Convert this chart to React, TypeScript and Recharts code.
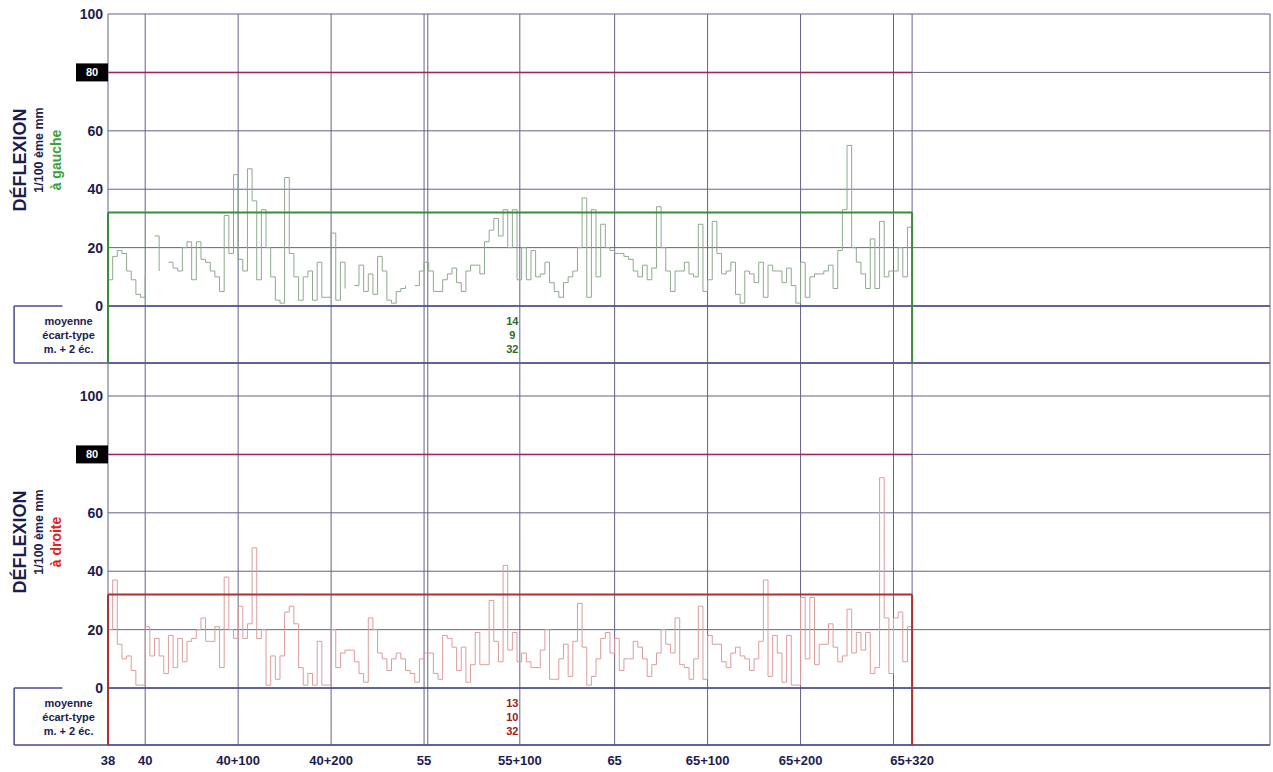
import { CartesianGrid, Line, LineChart, ReferenceArea, ReferenceLine, XAxis, YAxis } from "recharts";

const FONT = '"Liberation Sans", Arial, sans-serif';
const NAVY = "#1c1c4e";
const GRID = "#63638c";
const FRAME = "#4a4a8e";
const LIMIT_COLOR = "#a0245a";

// distances in metres from PR 38
const STEP_M = 5;
const END_M = 865;
const AXIS_END_M = 1250;
const TABLE_LEFT_M = -101;
const TABLE_GAP_M = -49;
const TABLE_MIN = -19.5;
const LIMIT = 80;

const chainageTicks = [0, 40, 140, 240, 340, 443, 545, 645, 745, 865];
const chainageLabels = ["38", "40", "40+100", "40+200", "55", "55+100", "65", "65+100", "65+200", "65+320"];
const gridStations = [0, 40, 140, 240, 340, 344, 443, 545, 645, 745, 845, 865, AXIS_END_M];
const deflectionTicks = [0, 20, 40, 60, 80, 100];

const statLabels = ["moyenne", "écart-type", "m. + 2 éc."];
const leftStats = [14, 9, 32];
const rightStats = [13, 10, 32];

// déflexion à gauche, one reading every 5 m
const leftValues = [
  9, 17, 19, 18, 12, 9, 4, 3, 10, null,
  24, 12, null, 15, 13, 12, 20, 22, 9, 22,
  16, 15, 12, 10, 5, 31, 18, 45, 16, 12,
  47, 36, 9, 33, 20, 10, 2, 1, 44, 18,
  10, 2, 10, 12, 2, 15, 3, 3, 25, 2,
  15, 6, null, 7, 14, 5, 11, 4, 17, 12,
  2, 1, 5, 6, 7, null, 7, 12, 15, 12,
  5, 5, 9, 11, 13, 8, 5, 12, 14, 14,
  11, 22, 26, 30, 24, 33, 20, 33, 9, 20,
  9, 19, 10, 11, 15, 8, 5, 3, 8, 10,
  12, 20, 37, 3, 33, 10, 28, 20, 19, 18,
  18, 17, 16, 12, 10, 14, 9, 13, 34, 20,
  12, 5, 12, 12, 15, 11, 10, 28, 5, 9,
  29, 18, 11, 12, 15, 4, 1, 12, 11, 8,
  15, 3, 14, 12, 12, 8, 13, 7, 1, 15,
  3, 10, 11, 11, 12, 14, 6, 19, 33, 55,
  20, 15, 11, 6, 23, 6, 29, 10, 12, 12,
  20, 10, 27,
];

// déflexion à droite
const rightValues = [
  20, 37, 15, 10, 11, 6, 1, 1, 21, 11,
  17, 11, 5, 18, 7, 17, 9, 16, 17, 20,
  24, 16, 16, 21, 7, 38, 20, 17, 28, 17,
  22, 48, 17, 20, 1, 11, 3, 11, 26, 28,
  22, 7, 1, 5, 1, 16, 1, 1, 20, 7,
  12, 13, 13, 9, 5, 2, 24, 20, 12, 10,
  6, 10, 12, 10, 6, 5, 2, 10, 12, 12,
  5, 3, 18, 17, 14, 6, 14, 2, 8, 19,
  8, 8, 30, 16, 9, 42, 13, 19, 9, 12,
  9, 7, 7, 13, 20, 3, 3, 10, 15, 4,
  16, 29, 14, 1, 4, 10, 17, 19, 12, 17,
  6, 10, 10, 16, 14, 10, 4, 8, 12, 20,
  15, 12, 24, 8, 7, 3, 10, 28, 3, 18,
  15, 15, 9, 7, 12, 14, 11, 10, 6, 10,
  16, 37, 4, 18, 12, 2, 18, 1, 1, 31,
  10, 31, 8, 15, 15, 22, 14, 9, 11, 27,
  12, 19, 13, 19, 5, 7, 72, 24, 5, 24,
  26, 9, 21,
];

const toSeries = (values: (number | null)[]) => {
  const points = values.map((v, i) => ({ x: i * STEP_M, v }));
  points.push({ x: END_M, v: values[values.length - 1] });
  return points;
};

const renderYTick = (props: any) => {
  const { x, y, payload } = props;
  if (payload.value === LIMIT) {
    return (
      <g>
        <rect x={x - 27} y={y - 9} width={32} height={18} fill="#000" />
        <text x={x - 11} y={y} dy={4} textAnchor="middle" fill="#fff" fontSize={11} fontWeight={700} fontFamily={FONT}>
          {payload.value}
        </text>
      </g>
    );
  }
  return (
    <text x={x} y={y} dy={5} textAnchor="end" fill={NAVY} fontSize={14} fontWeight={700} fontFamily={FONT}>
      {payload.value}
    </text>
  );
};

function Panel({
  values,
  stats,
  side,
  sideColor,
  boxColor,
  lineColor,
  statColor,
  top,
  height,
  yMax,
  showAxis,
  titleY,
}: {
  values: (number | null)[];
  stats: number[];
  side: string;
  sideColor: string;
  boxColor: string;
  lineColor: string;
  statColor: string;
  top: number;
  height: number;
  yMax: number;
  showAxis: boolean;
  titleY: number;
}) {
  const data = toSeries(values);
  const threshold = stats[2];

  const title = () => (
    <g fontFamily={FONT} fontWeight={700}>
      <text transform={`translate(20, ${titleY}) rotate(-90)`} textAnchor="middle" dominantBaseline="central" fontSize={18} fill={NAVY}>
        DÉFLEXION
      </text>
      <text transform={`translate(39, ${titleY - 10}) rotate(-90)`} textAnchor="middle" dominantBaseline="central" fontSize={12.5} fill={NAVY}>
        1/100 ème mm
      </text>
      <text transform={`translate(56, ${titleY}) rotate(-90)`} textAnchor="middle" dominantBaseline="central" fontSize={14} fill={sideColor}>
        {side}
      </text>
    </g>
  );

  const tableLabels = (props: any) => {
    const vb = props.viewBox;
    return (
      <g fontFamily={FONT} fontWeight={700} fontSize={11} fill={NAVY}>
        {statLabels.map((label, i) => (
          <text key={label} x={vb.x + vb.width * 0.58} y={vb.y + 15 + i * 14} textAnchor="middle" dominantBaseline="central">
            {label}
          </text>
        ))}
      </g>
    );
  };

  const tableValues = (props: any) => {
    const vb = props.viewBox;
    return (
      <g fontFamily={FONT} fontWeight={700} fontSize={11} fill={statColor}>
        {stats.map((s, i) => (
          <text key={i} x={vb.x + vb.width / 2} y={vb.y + 15 + i * 14} textAnchor="middle" dominantBaseline="central">
            {s}
          </text>
        ))}
      </g>
    );
  };

  return (
    <div style={{ position: "absolute", left: 0, top, width: 1273, height }}>
      <LineChart
        width={1273}
        height={height}
        data={data}
        margin={{ top: showAxis ? 0 : 14, right: 3, bottom: showAxis ? 0 : 17, left: 0 }}
      >
        <CartesianGrid vertical={false} stroke={GRID} />
        <XAxis
          type="number"
          dataKey="x"
          domain={[0, AXIS_END_M]}
          ticks={chainageTicks}
          interval={0}
          allowDataOverflow
          hide={!showAxis}
          height={27}
          axisLine={false}
          tickLine={false}
          tickSize={0}
          tickMargin={11}
          tickFormatter={(v) => chainageLabels[chainageTicks.indexOf(v)] ?? ""}
          tick={{ fill: NAVY, fontSize: 13, fontWeight: 700, fontFamily: FONT }}
        />
        <YAxis
          type="number"
          domain={[TABLE_MIN, yMax]}
          ticks={deflectionTicks}
          interval={0}
          allowDataOverflow
          width={108}
          axisLine={false}
          tickLine={false}
          tickSize={0}
          tickMargin={5}
          tick={renderYTick}
          label={{ content: title }}
        />
        {gridStations.map((s) => (
          <ReferenceLine key={s} x={s} stroke={GRID} strokeWidth={1} ifOverflow="visible" />
        ))}
        <Line
          dataKey="v"
          type="stepAfter"
          stroke={lineColor}
          strokeWidth={1}
          dot={false}
          activeDot={false}
          connectNulls={false}
          isAnimationActive={false}
        />
        <ReferenceLine
          segment={[{ x: 0, y: LIMIT }, { x: END_M, y: LIMIT }]}
          stroke={LIMIT_COLOR}
          strokeWidth={1.5}
          ifOverflow="visible"
        />
        <ReferenceLine y={0} stroke={FRAME} strokeWidth={1.5} ifOverflow="visible" />
        <ReferenceLine
          segment={[{ x: TABLE_LEFT_M, y: 0 }, { x: TABLE_GAP_M, y: 0 }]}
          stroke={FRAME}
          strokeWidth={1.5}
          ifOverflow="visible"
        />
        <ReferenceLine
          segment={[{ x: TABLE_LEFT_M, y: TABLE_MIN }, { x: TABLE_LEFT_M, y: 0 }]}
          stroke={FRAME}
          strokeWidth={1.5}
          ifOverflow="visible"
        />
        <ReferenceLine
          segment={[{ x: TABLE_LEFT_M, y: TABLE_MIN }, { x: AXIS_END_M, y: TABLE_MIN }]}
          stroke={FRAME}
          strokeWidth={1.5}
          ifOverflow="visible"
        />
        <ReferenceLine
          segment={[{ x: 0, y: threshold }, { x: END_M, y: threshold }]}
          stroke={boxColor}
          strokeWidth={2}
          ifOverflow="visible"
        />
        <ReferenceLine
          segment={[{ x: 0, y: TABLE_MIN }, { x: 0, y: threshold }]}
          stroke={boxColor}
          strokeWidth={2}
          ifOverflow="visible"
        />
        <ReferenceLine
          segment={[{ x: END_M, y: TABLE_MIN }, { x: END_M, y: threshold }]}
          stroke={boxColor}
          strokeWidth={2}
          ifOverflow="visible"
        />
        <ReferenceArea
          x1={TABLE_LEFT_M}
          x2={0}
          y1={TABLE_MIN}
          y2={0}
          fill="none"
          stroke="none"
          ifOverflow="visible"
          label={tableLabels}
        />
        <ReferenceArea
          x1={425}
          x2={445}
          y1={TABLE_MIN}
          y2={0}
          fill="none"
          stroke="none"
          ifOverflow="visible"
          label={tableValues}
        />
      </LineChart>
    </div>
  );
}

export default function App() {
  return (
    <div style={{ position: "absolute", left: 0, top: 0, width: 1273, height: 772, background: "#fff", overflow: "hidden" }}>
      <Panel
        values={leftValues}
        stats={leftStats}
        side="à gauche"
        sideColor="#3aa03a"
        boxColor="#3c8a3c"
        lineColor="#8fa98f"
        statColor="#2e6b2e"
        top={0}
        height={380}
        yMax={100}
        showAxis={false}
        titleY={160}
      />
      <Panel
        values={rightValues}
        stats={rightStats}
        side="à droite"
        sideColor="#e02020"
        boxColor="#b03030"
        lineColor="#dc9c9c"
        statColor="#9b2020"
        top={363}
        height={409}
        yMax={111.3}
        showAxis={true}
        titleY={179}
      />
    </div>
  );
}
